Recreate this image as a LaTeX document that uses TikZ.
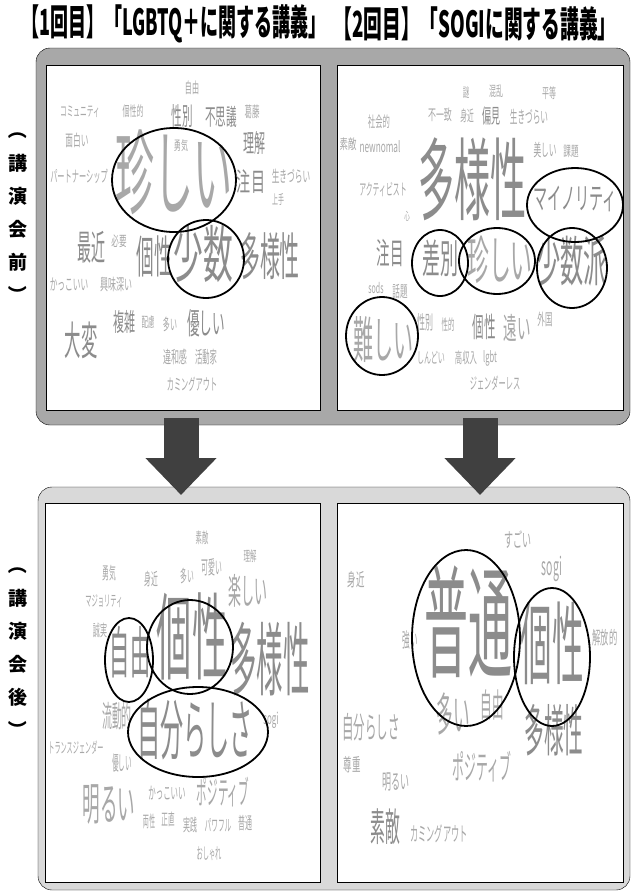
\documentclass[tikz,border=0pt]{standalone}
\usepackage{fontspec}
\usepackage{graphicx}
\newfontfamily\jp{Noto Sans CJK JP}
\usetikzlibrary{arrows.meta}
\definecolor{wordgray}{RGB}{140,140,140}
\definecolor{wordlight}{RGB}{168,168,168}
\definecolor{framedark}{RGB}{168,168,168}
\definecolor{framelight}{RGB}{217,217,217}
\definecolor{arrowgray}{RGB}{64,64,64}
\newcommand{\wc}[3][0.45]{\scalebox{#1}[1]{\fontsize{#2}{#2}\selectfont #3}}

\begin{document}
\begin{tikzpicture}[x=1pt,y=-1pt]
\tikzstyle{word}=[inner sep=0pt,font=\jp,text=wordgray]
\tikzstyle{pale}=[word,text=wordlight]
\tikzstyle{panel}=[rectangle,draw,fill=white,line width=0.6pt,inner sep=0pt]
\tikzstyle{ring}=[draw=black,line width=1.8pt]
\tikzstyle{side}=[inner sep=0pt,font=\jp\bfseries\fontsize{19}{19}\selectfont]
\tikzstyle{heading}=[inner sep=0pt,font=\jp\bfseries]
\tikzstyle{bigarrow}=[draw=arrowgray,line width=35pt,-{Triangle[length=37pt,width=69pt]}]
\useasboundingbox (0,0) rectangle (637,895);

% titles
\node[heading] (t1) at (174,24) {\wc[0.50]{36}{【1回目】「LGBTQ＋に関する講義」}};
\node[heading] (t2) at (475,24) {\wc[0.52]{36}{【2回目】「SOGIに関する講義」}};

% frames
\draw[fill=framedark,rounded corners=14pt] (36,48) rectangle (630,425);
\draw[fill=framelight,rounded corners=14pt] (38,487) rectangle (630,890);
\node[panel,minimum width=274pt,minimum height=345pt] (before-l) at (183,237.5) {};
\node[panel,minimum width=286pt,minimum height=345pt] (before-r) at (480,237.5) {};
\node[panel,minimum width=275pt,minimum height=379pt] (after-l) at (182.5,692.5) {};
\node[panel,minimum width=286pt,minimum height=379pt] (after-r) at (480,692.5) {};

% side labels
\foreach \c [count=\i] in {\rotatebox{-90}{（},講,演,会,前,\rotatebox{-90}{）}}
  \node[side] (pre\i) at (18,97+33*\i) {\c};
\foreach \c [count=\i] in {\rotatebox{-90}{（},講,演,会,後,\rotatebox{-90}{）}}
  \node[side] (post\i) at (18,532+33*\i) {\c};

% arrows
\coordinate (la-top) at (181,418);
\coordinate (la-tip) at (181,495);
\coordinate (ra-top) at (480,418);
\coordinate (ra-tip) at (480,495);
\draw[bigarrow] (la-top) -- (la-tip);
\draw[bigarrow] (ra-top) -- (ra-tip);

% before, LGBTQ+
\foreach \n/\x/\y/\s/\k/\st/\t in {
  a1/192/88/15/0.47/pale/自由, a2/80/112/14/0.48/pale/コミュニティ,
  a3/133/111/14/0.5/pale/個性的, a4/182/116/25/0.42/word/性別,
  a5/221/117/23/0.46/word/不思議, a6/252/112/15/0.5/pale/葛藤,
  a7/77/140/16/0.48/pale/面白い, a8/181/146/13/0.54/pale/勇気,
  a9/254/143/25/0.44/word/理解, a10/174/172/93/0.42/pale/珍しい,
  a11/79/176/16/0.45/pale/パートナーシップ, a12/251/182/26/0.54/word/注目,
  a13/291/176/16/0.48/pale/生きづらい, a14/278/200/13/0.46/pale/上手,
  a15/91/247/35/0.4/word/最近, a16/119/241/14/0.54/pale/必要,
  a17/154/256/45/0.39/word/個性, a18/203/254/62/0.48/word/少数,
  a19/270/256/51/0.39/word/多様性, a20/69/284/16/0.48/pale/かっこいい,
  a21/116/284/16/0.5/pale/興味深い, a22/124/322/25/0.44/word/複雑,
  a23/148/322/14/0.46/pale/配慮, a24/170/324/16/0.44/pale/多い,
  a25/206/323/30/0.42/word/優しい, a26/81/340/40/0.41/word/大変,
  a27/175/357/17/0.47/pale/違和感, a28/206/357/17/0.43/pale/活動家,
  a29/192/384/16/0.45/pale/カミングアウト}
  \node[\st] (\n) at (\x,\y) {\wc[\k]{\s}{\t}};

% before, SOGI
\foreach \n/\x/\y/\s/\k/\st/\t in {
  b1/466/93/13/0.5/pale/謎, b2/496/91/14/0.5/pale/混乱,
  b3/549/93/14/0.5/pale/平等, b4/379/122/15/0.49/pale/社会的,
  b5/440/115/15/0.53/pale/不一致, b6/467/116/15/0.45/pale/身近,
  b7/491/116/20/0.45/word/偏見, b8/529/117/17/0.45/pale/生きづらい,
  b9/348/144/14/0.6/pale/素敵, b10/380/147/15/0.55/pale/newnomal,
  b11/545/150/17/0.45/pale/美しい, b12/571/151/14/0.54/pale/課題,
  b13/472/179/90/0.4/word/多様性, b14/383/190/16/0.43/pale/アクティビスト,
  b15/407/216/11/0.5/pale/心, b16/575/199/30/0.47/word/マイノリティ,
  b17/390/253/30/0.45/word/注目, b18/440/258/40/0.45/word/差別,
  b19/500/260/52/0.42/pale/珍しい, b20/572/261/54/0.43/word/少数派,
  b21/376/288/14/0.5/pale/sods, b22/400/292/16/0.47/pale/話題,
  b23/383/340/50/0.4/pale/難しい, b24/425/322/19/0.42/pale/性別,
  b25/448/325/15/0.43/pale/性的, b26/484/327/28/0.41/word/個性,
  b27/517/328/30/0.45/pale/遠い, b28/545/319/16/0.47/pale/外国,
  b29/431/358/15/0.47/pale/しんどい, b30/466/358/15/0.49/pale/高収入,
  b31/490/358/15/0.5/pale/lgbt, b32/495/383/16/0.45/pale/ジェンダーレス}
  \node[\st] (\n) at (\x,\y) {\wc[\k]{\s}{\t}};

% after, LGBTQ+
\foreach \n/\x/\y/\s/\k/\st/\t in {
  c1/202/538/15/0.42/pale/素敵, c2/250/556/14/0.46/pale/理解,
  c3/109/573/17/0.4/pale/勇気, c4/151/579/17/0.4/pale/身近,
  c5/187/576/17/0.4/pale/多い, c6/212/567/19/0.36/pale/可愛い,
  c7/248/591/36/0.36/pale/楽しい, c8/104/601/15/0.42/pale/マジョリティ,
  c9/100/630/16/0.44/pale/誠実, c10/192/636/95/0.37/word/個性,
  c11/270/659/80/0.33/word/多様性, c12/130/652/56/0.36/word/自由,
  c13/117/716/30/0.33/pale/流動的, c14/195/730/66/0.35/word/自分らしさ,
  c15/271/720/16/0.5/pale/sogi, c16/76/748/15/0.41/pale/トランスジェンダー,
  c17/122/763/20/0.33/pale/優しい, c18/109/805/45/0.39/pale/明るい,
  c19/167/793/17/0.44/pale/かっこいい, c20/223/792/32/0.33/pale/ポジティブ,
  c21/149/821/16/0.38/pale/両性, c22/168/819/16/0.41/pale/正直,
  c23/190/825/17/0.41/pale/実践, c24/218/825/16/0.42/pale/パワフル,
  c25/245/823/17/0.41/pale/普通, c26/209/854/16/0.39/pale/おしゃれ}
  \node[\st] (\n) at (\x,\y) {\wc[\k]{\s}{\t}};

% after, SOGI
\foreach \n/\x/\y/\s/\k/\st/\t in {
  d1/518/540/20/0.45/pale/すごい, d2/356/580/18/0.47/pale/身近,
  d3/552/569/25/0.42/pale/sogi, d4/468/622/122/0.36/word/普通,
  d5/410/640/20/0.38/pale/強い, d6/552/643/90/0.35/word/個性,
  d7/605/638/18/0.46/pale/解放的, d8/453/714/46/0.36/pale/多い,
  d9/492/705/33/0.35/pale/自由, d10/554/730/56/0.35/word/多様性,
  d11/371/727/30/0.38/pale/自分らしさ, d12/352/765/18/0.47/pale/尊重,
  d13/482/767/33/0.36/pale/ポジティブ, d14/396/782/21/0.43/pale/明るい,
  d15/385/827/39/0.38/word/素敵, d16/439/834/20/0.41/pale/カミングアウト}
  \node[\st] (\n) at (\x,\y) {\wc[\k]{\s}{\t}};

% rings
\draw[ring] (174,180) ellipse [x radius=62pt,y radius=52pt];
\draw[ring] (206,259) ellipse [x radius=38pt,y radius=39pt];
\draw[ring] (575,205) ellipse [x radius=48pt,y radius=37pt];
\draw[ring] (440,263) ellipse [x radius=28pt,y radius=33pt];
\draw[ring] (497,261) ellipse [x radius=38pt,y radius=33pt];
\draw[ring] (572,268) ellipse [x radius=35pt,y radius=40pt];
\draw[ring] (382,336) ellipse [x radius=36pt,y radius=39pt];
\draw[ring] (129,660) ellipse [x radius=24pt,y radius=42pt];
\draw[ring] (190,647) ellipse [x radius=43pt,y radius=47pt];
\draw[ring] (198,732) ellipse [x radius=70pt,y radius=45pt];
\draw[ring] (466,638) ellipse [x radius=54pt,y radius=88pt];
\draw[ring] (552,657) ellipse [x radius=38pt,y radius=69pt];
\end{tikzpicture}
\end{document}
